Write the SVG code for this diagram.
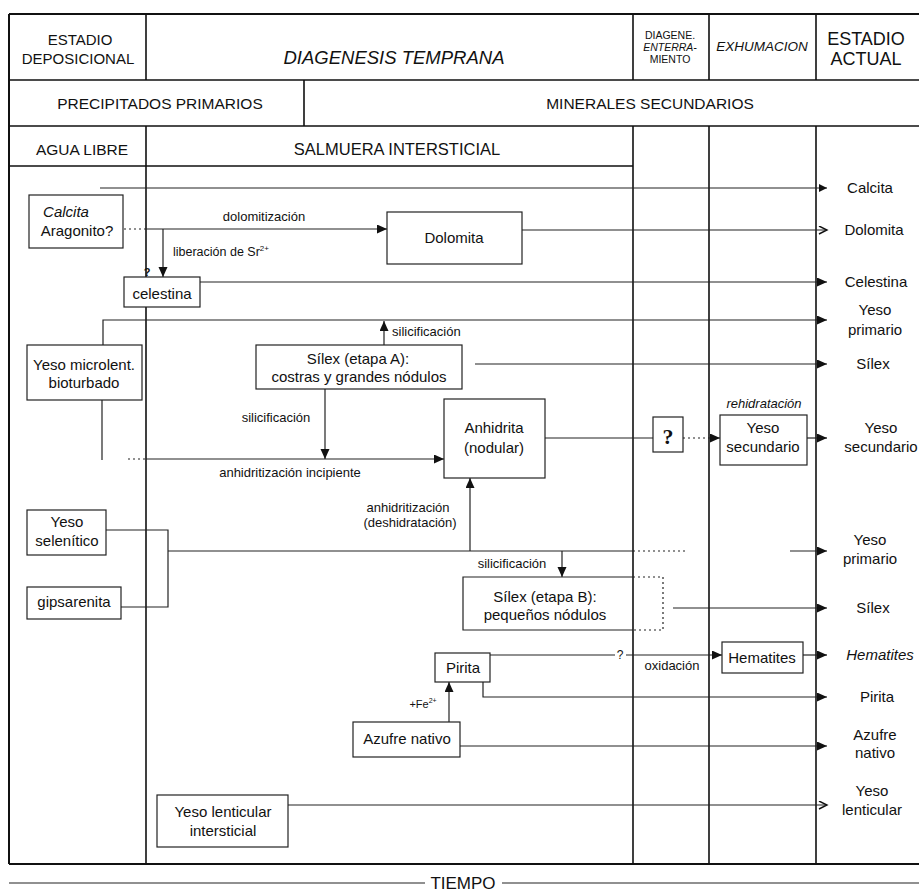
<svg xmlns="http://www.w3.org/2000/svg" width="919" height="896" viewBox="0 0 919 896">
<defs>
<style>
.frame{stroke:#111;stroke-width:2;fill:none}
.col{stroke:#111;stroke-width:1.6;fill:none}
.c{stroke:#222;stroke-width:1.2;fill:none}
.d{stroke:#222;stroke-width:1.2;fill:none;stroke-dasharray:2 3}
.box{fill:#fff;stroke:#222;stroke-width:1.2}
.nb{fill:none;stroke:#222;stroke-width:1.2}
text{font-family:"Liberation Sans",Arial,Helvetica,sans-serif;fill:#111}
.h{font-size:15.5px;text-anchor:middle}
.b{font-size:15px;text-anchor:middle}
.s{font-size:13px;text-anchor:middle}
.r{font-size:15px;text-anchor:middle}
.i{font-style:italic}
.a{marker-end:url(#arr)}
.o{marker-end:url(#open)}
.l{marker-end:url(#line)}
</style>
<marker id="arr" markerUnits="userSpaceOnUse" markerWidth="12" markerHeight="10" refX="10" refY="4.5" orient="auto"><path d="M0,0 L10,4.5 L0,9 Z" fill="#111"/></marker>
<marker id="open" markerUnits="userSpaceOnUse" markerWidth="12" markerHeight="10" refX="9" refY="4.5" orient="auto"><path d="M1,0.5 L9,4.5 L1,8.5" fill="none" stroke="#111" stroke-width="1.4"/></marker>
<marker id="line" markerUnits="userSpaceOnUse" markerWidth="12" markerHeight="10" refX="9" refY="4.5" orient="auto"><path d="M1,0.5 L9,4.5 L1,8.5 Z" fill="#111"/></marker>
</defs>
<rect width="919" height="896" fill="#fff"/>

<g id="frame">
<path class="frame" d="M9,14 H919 M9,14 V864 M9,864 H919"/>
<path class="col" d="M9,80 H919 M9,126 H919 M9,166 H633"/>
<path class="col" d="M146,14 V80 M146,126 V864 M304,80 V126"/>
<path class="col" d="M633,14 V80 M633,126 V864 M709,14 V80 M709,126 V864 M816,14 V80 M816,126 V864"/>
</g>

<g id="header">
<text class="h" x="80" y="45" style="font-size:15px">ESTADIO</text>
<text class="h" x="78" y="64" style="font-size:15px">DEPOSICIONAL</text>
<text class="h i" x="394" y="64" style="font-size:18.5px">DIAGENESIS TEMPRANA</text>
<text x="670" y="39" style="font-size:10.5px;text-anchor:middle">DIAGENE.</text>
<text x="670" y="51" style="font-size:10.5px;text-anchor:middle;font-style:italic">ENTERRA-</text>
<text x="670" y="63" style="font-size:10.5px;text-anchor:middle">MIENTO</text>
<text class="i" x="762" y="51" style="font-size:13.5px;text-anchor:middle">EXHUMACION</text>
<text x="866" y="45" style="font-size:18px;text-anchor:middle">ESTADIO</text>
<text x="866" y="65" style="font-size:18px;text-anchor:middle">ACTUAL</text>
<text class="h" x="160" y="109">PRECIPITADOS PRIMARIOS</text>
<text class="h" x="650" y="109">MINERALES SECUNDARIOS</text>
<text class="h" x="82" y="155">AGUA LIBRE</text>
<text class="h" x="397" y="155" style="font-size:16.5px">SALMUERA INTERSTICIAL</text>
</g>

<g id="connectors">
<path class="c l" d="M100,188 H827"/>
<path class="d" d="M124,229 H146"/>
<path class="c a" d="M146,229 H387"/>
<path class="c a" d="M163,229 V277"/>
<path class="c o" d="M522,230 H827"/>
<path class="c a" d="M200,282 H827"/>
<path class="c a" d="M103,345 V320 H827"/>
<path class="c a" d="M384,345 V321"/>
<path class="c a" d="M475,364 H827"/>
<path class="c a" d="M325,389 V459"/>
<path class="c" d="M102,400 V460"/>
<path class="d" d="M128,459 H146"/>
<path class="c a" d="M146,459 H444"/>
<path class="c" d="M545,438 H653"/>
<path class="d a" d="M683,438 H720"/>
<path class="c a" d="M807,438 H827"/>
<path class="c" d="M106,530 H168 V607 H121"/>
<path class="c" d="M168,551 H633"/>
<path class="d" d="M633,551 H687"/>
<path class="c a" d="M790,551 H827"/>
<path class="c a" d="M470,551 V478"/>
<path class="c a" d="M562,551 V577"/>
<path class="c a" d="M673,608 H827"/>
<path class="c" d="M490,655 H615"/>
<path class="c a" d="M626,655 H722"/>
<path class="c a" d="M803,655 H827"/>
<path class="c a" d="M483,682 V697 H827"/>
<path class="c a" d="M449,722 V682"/>
<path class="c a" d="M460,746 H827"/>
<path class="c o" d="M288,805 H827"/>
<text class="s" x="264" y="221">dolomitización</text>
<text x="173" y="256" style="font-size:12.5px">liberación de Sr<tspan dy="-5" style="font-size:8px">2+</tspan></text>
<text x="147" y="276" style="font-size:11px;font-weight:bold;text-anchor:middle">?</text>
<text x="392" y="336" style="font-size:13px">silicificación</text>
<text class="s" x="276" y="422">silicificación</text>
<text class="s" x="290" y="477">anhidritización incipiente</text>
<text class="s i" x="764" y="408">rehidratación</text>
<text class="s" x="408" y="512">anhidritización</text>
<text class="s" x="410" y="527">(deshidratación)</text>
<text class="s" x="512" y="568">silicificación</text>
<text x="620" y="659" style="font-size:12px;text-anchor:middle">?</text>
<text class="s" x="672" y="670">oxidación</text>
<text x="423" y="708" style="font-size:11px;text-anchor:middle">+Fe<tspan dy="-5" style="font-size:7px">2+</tspan></text>
</g>

<g id="n-calcita-aragonito">
<rect class="box" x="29" y="195" width="94" height="53"/>
<text class="b i" x="66" y="217">Calcita</text>
<text class="b" x="77" y="236">Aragonito?</text>
</g>
<g id="n-dolomita">
<rect class="box" x="387" y="212" width="135" height="52"/>
<text class="b" x="454" y="243">Dolomita</text>
</g>
<g id="n-celestina">
<rect class="box" x="124" y="277" width="76" height="30"/>
<text class="b" x="162" y="299">celestina</text>
</g>
<g id="n-yeso-microlent">
<rect class="box" x="27" y="345" width="115" height="55"/>
<text class="b" x="84" y="370">Yeso microlent.</text>
<text class="b" x="84" y="388">bioturbado</text>
</g>
<g id="n-silex-a">
<rect class="box" x="256" y="345" width="206" height="44"/>
<text class="b" x="358" y="364">Sílex (etapa A):</text>
<text class="b" x="359" y="382">costras y grandes nódulos</text>
</g>
<g id="n-anhidrita">
<rect class="box" x="444" y="399" width="101" height="79"/>
<text class="b" x="494" y="433">Anhidrita</text>
<text class="b" x="494" y="453">(nodular)</text>
</g>
<g id="n-interrogante">
<rect class="box" x="653" y="417" width="30" height="35"/>
<text x="668" y="444" style="font-family:'Liberation Serif',serif;font-size:22px;font-weight:bold;text-anchor:middle">?</text>
</g>
<g id="n-yeso-secundario">
<rect class="box" x="720" y="415" width="87" height="50"/>
<text class="b" x="763" y="433">Yeso</text>
<text class="b" x="763" y="452">secundario</text>
</g>
<g id="n-yeso-selenitico">
<rect class="box" x="27" y="510" width="79" height="45"/>
<text class="b" x="67" y="527">Yeso</text>
<text class="b" x="67" y="546">selenítico</text>
</g>
<g id="n-gipsarenita">
<rect class="box" x="27" y="587" width="94" height="32"/>
<text class="b" x="74" y="607">gipsarenita</text>
</g>
<g id="n-silex-b">
<path class="nb" d="M633,577 H463 V630 H633"/>
<path class="d" d="M633,577 H663 V630 H633"/>
<text class="b" x="545" y="602">Sílex (etapa B):</text>
<text class="b" x="545" y="620">pequeños nódulos</text>
</g>
<g id="n-pirita">
<rect class="box" x="435" y="653" width="55" height="29"/>
<text class="b" x="463" y="673">Pirita</text>
</g>
<g id="n-hematites">
<rect class="box" x="722" y="642" width="81" height="31"/>
<text class="b" x="762" y="663">Hematites</text>
</g>
<g id="n-azufre">
<rect class="box" x="353" y="722" width="107" height="35"/>
<text class="b" x="407" y="744">Azufre  nativo</text>
</g>
<g id="n-yeso-lenticular">
<rect class="box" x="157" y="795" width="131" height="52"/>
<text class="b" x="223" y="817">Yeso lenticular</text>
<text class="b" x="223" y="836">intersticial</text>
</g>

<g id="estado-actual">
<text class="r" x="870" y="193">Calcita</text>
<text class="r" x="874" y="235">Dolomita</text>
<text class="r" x="876" y="287">Celestina</text>
<text class="r" x="875" y="315">Yeso</text>
<text class="r" x="875" y="335">primario</text>
<text class="r" x="873" y="369">Sílex</text>
<text class="r" x="881" y="433">Yeso</text>
<text class="r" x="881" y="452">secundario</text>
<text class="r" x="870" y="545">Yeso</text>
<text class="r" x="870" y="564">primario</text>
<text class="r" x="873" y="613">Sílex</text>
<text class="r i" x="880" y="660">Hematites</text>
<text class="r" x="877" y="702">Pirita</text>
<text class="r" x="875" y="740">Azufre</text>
<text class="r" x="875" y="758">nativo</text>
<text class="r" x="872" y="796">Yeso</text>
<text class="r" x="872" y="815">lenticular</text>
</g>

<g id="tiempo">
<path class="c" d="M9,883 H425 M502,883 H919"/>
<text x="463" y="889" style="font-size:17px;text-anchor:middle">TIEMPO</text>
</g>
</svg>
